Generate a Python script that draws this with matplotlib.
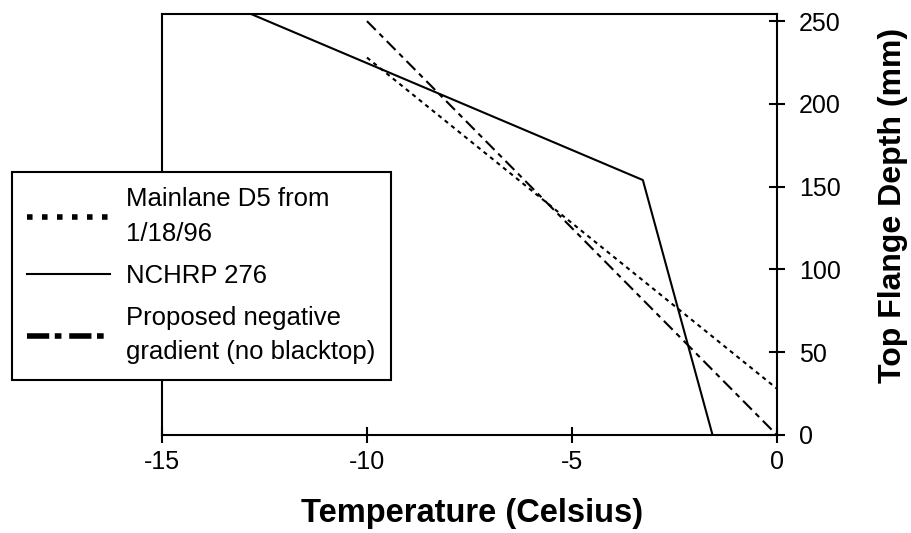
import matplotlib
matplotlib.use('Agg')
import matplotlib.pyplot as plt
from matplotlib.lines import Line2D

plt.rcParams['font.family'] = ['Liberation Sans', 'DejaVu Sans']

# data (temperature in Celsius, depth in mm)
mainlane_temp = [-10.0, 0.0]
mainlane_depth = [228, 28]

nchrp_temp = [-12.8, -3.27, -1.57]
nchrp_depth = [254, 154, 0]

proposed_temp = [-10.0, 0.0]
proposed_depth = [250, 0]

labels = ['Mainlane D5 from\n1/18/96', 'NCHRP 276', 'Proposed negative\ngradient (no blacktop)']
x_ticks = [-15, -10, -5, 0]
y_ticks = [0, 50, 100, 150, 200, 250]

fig = plt.figure(figsize=(9.11, 5.33), dpi=100)
ax = fig.add_axes([0.1778, 0.1839, 0.675, 0.7889])

ax.plot(mainlane_temp, mainlane_depth, color='black', lw=1.5, ls=(0, (2, 2)))
ax.plot(nchrp_temp, nchrp_depth, color='black', lw=1.5, ls='-')
ax.plot(proposed_temp, proposed_depth, color='black', lw=1.5, ls=(0, (6, 2.5, 2.5, 2.5)))

ax.set_xlim(-15, 0)
ax.set_ylim(0, 254)
ax.set_xticks(x_ticks)
ax.set_xticklabels([str(v) for v in x_ticks])
ax.set_yticks(y_ticks)
ax.yaxis.tick_right()
ax.yaxis.set_label_position('right')

for s in ax.spines.values():
    s.set_linewidth(1.5)
ax.tick_params(axis='x', direction='inout', length=12, width=1.5, labelsize=18, pad=5)
ax.tick_params(axis='y', direction='inout', length=12, width=1.5, labelsize=18, pad=10)

ax.set_xlabel('Temperature (Celsius)', fontsize=23.5, fontweight='bold')
ax.xaxis.set_label_coords(0.504, -0.15)
ax.set_ylabel('Top Flange Depth (mm)', fontsize=23, fontweight='bold', rotation=90)
ax.yaxis.set_label_coords(1.164, 0.545)

# legend handles are drawn heavier than the plotted lines
handles = [
    Line2D([], [], color='black', lw=4, ls=(0, (1, 1.7)), dash_capstyle='butt'),
    Line2D([], [], color='black', lw=1.5, ls='-'),
    Line2D([], [], color='black', lw=4, ls=(0, (4, 1, 1.2, 1.4)), dash_capstyle='butt'),
]
leg = fig.legend(handles, labels, loc='upper left', bbox_to_anchor=(12 / 911, 1 - 172 / 533),
                 fontsize=18.5, handlelength=3.2, handletextpad=0.65, labelspacing=0.7,
                 borderpad=0.6, borderaxespad=0, fancybox=False, framealpha=1,
                 edgecolor='black')
leg.get_frame().set_linewidth(1.5)
for t in leg.get_texts():
    t.set_linespacing(1.55)

fig.savefig('out.png', dpi=100)
